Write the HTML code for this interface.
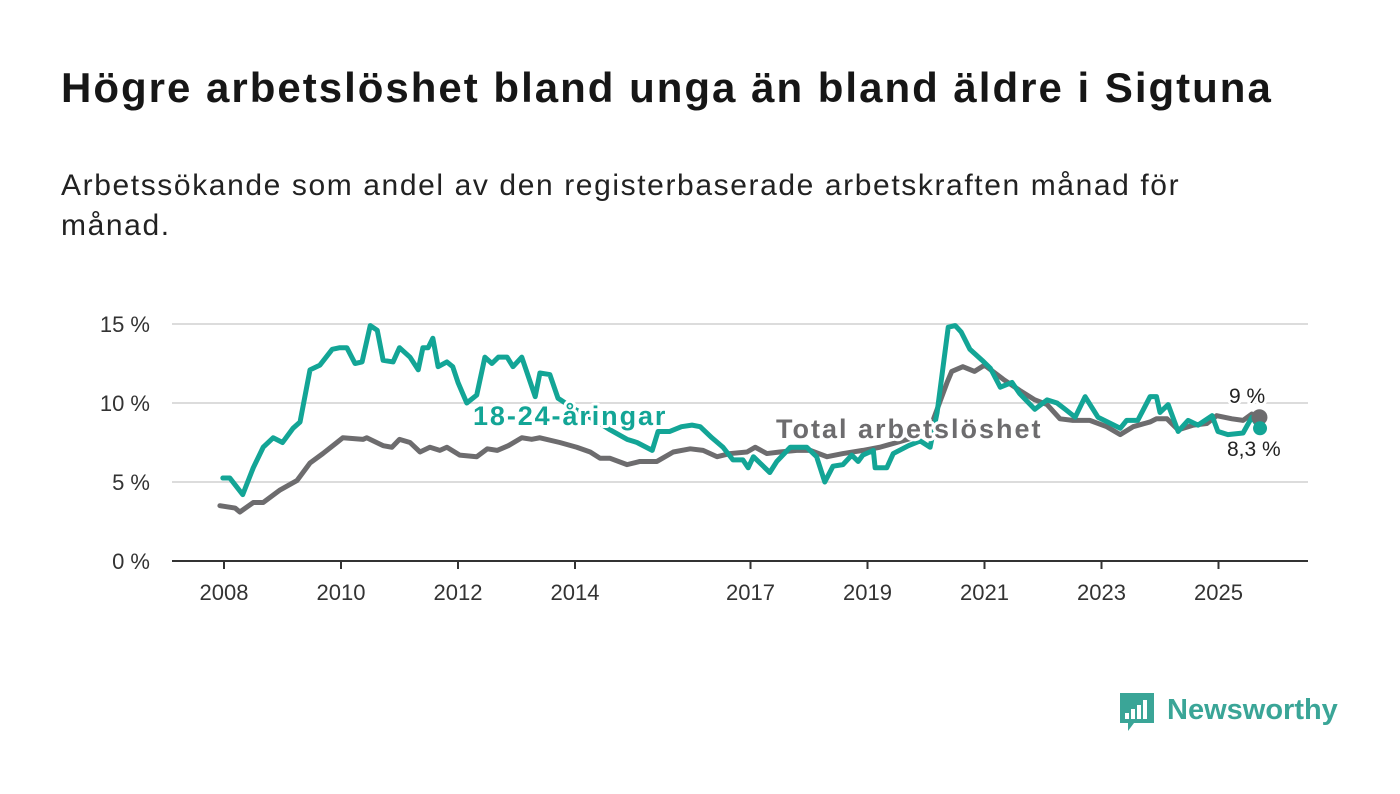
<!DOCTYPE html>
<html><head><meta charset="utf-8"><style>
body{margin:0;background:#fff;font-family:"Liberation Sans","DejaVu Sans",sans-serif;}
#wrap{position:relative;width:1400px;height:794px;overflow:hidden;}
h1{position:absolute;left:61px;top:64px;margin:0;font-size:42px;font-weight:bold;color:#161616;letter-spacing:2px;white-space:nowrap}
p.sub{position:absolute;left:61px;top:166px;margin:0;font-size:30px;line-height:40px;color:#222;width:1200px;letter-spacing:1.6px}
svg{position:absolute;left:0;top:0}
</style></head><body>
<div id="wrap">
<h1>Högre arbetslöshet bland unga än bland äldre i Sigtuna</h1>
<p class="sub">Arbetssökande som andel av den registerbaserade arbetskraften månad för månad.</p>
<svg id="chart" width="1400" height="794"></svg>
</div>
<script>
const yTicks=[0,5,10,15];
const yTickLabels=["0 %","5 %","10 %","15 %"];
const xTicks=[2008,2010,2012,2014,2017,2019,2021,2023,2025];
const totalT=[2007.93,2008.19,2008.27,2008.5,2008.67,2008.96,2009.25,2009.47,2009.69,2009.93,2010.03,2010.38,2010.44,2010.72,2010.87,2011.0,2011.18,2011.35,2011.52,2011.69,2011.81,2012.03,2012.32,2012.5,2012.67,2012.86,2013.09,2013.26,2013.4,2013.74,2014.03,2014.26,2014.43,2014.6,2014.89,2015.11,2015.4,2015.68,2015.97,2016.19,2016.43,2016.65,2016.94,2017.08,2017.28,2017.5,2017.79,2018.02,2018.31,2018.58,2018.92,2019.21,2019.5,2019.78,2020.12,2020.36,2020.44,2020.63,2020.83,2021.0,2021.32,2021.6,2021.86,2022.07,2022.29,2022.51,2022.8,2023.09,2023.32,2023.54,2023.83,2023.94,2024.12,2024.31,2024.57,2024.8,2024.97,2025.23,2025.42,2025.57,2025.7];
const totalV=[3.5,3.35,3.1,3.7,3.7,4.5,5.1,6.2,6.8,7.5,7.8,7.7,7.8,7.3,7.2,7.7,7.5,6.9,7.2,7.0,7.2,6.7,6.6,7.1,7.0,7.3,7.8,7.7,7.8,7.5,7.2,6.9,6.5,6.5,6.1,6.3,6.3,6.9,7.1,7.0,6.6,6.8,6.9,7.2,6.8,6.9,7.0,7.0,6.6,6.8,7.0,7.2,7.5,7.8,8.9,11.3,12.0,12.3,12.0,12.4,11.5,10.8,10.2,9.9,9.0,8.9,8.9,8.5,8.0,8.5,8.8,9.0,9.0,8.3,8.6,8.7,9.2,9.0,8.9,9.3,9.1];
const youthT=[2007.98,2008.1,2008.32,2008.5,2008.67,2008.84,2009.0,2009.18,2009.3,2009.47,2009.64,2009.85,2009.98,2010.1,2010.24,2010.36,2010.5,2010.62,2010.72,2010.89,2011.0,2011.18,2011.32,2011.4,2011.49,2011.57,2011.66,2011.81,2011.91,2012.0,2012.15,2012.32,2012.46,2012.58,2012.69,2012.84,2012.94,2013.09,2013.32,2013.4,2013.57,2013.71,2014.0,2014.3,2014.6,2014.89,2015.06,2015.32,2015.42,2015.62,2015.82,2016.0,2016.14,2016.34,2016.53,2016.7,2016.87,2016.96,2017.05,2017.33,2017.45,2017.68,2017.96,2018.13,2018.27,2018.41,2018.58,2018.73,2018.84,2018.92,2019.1,2019.13,2019.33,2019.44,2019.7,2019.9,2020.07,2020.19,2020.38,2020.5,2020.6,2020.75,2020.96,2021.1,2021.27,2021.47,2021.6,2021.86,2022.07,2022.24,2022.38,2022.55,2022.72,2022.94,2023.32,2023.43,2023.62,2023.83,2023.94,2024.0,2024.14,2024.31,2024.48,2024.65,2024.89,2024.99,2025.16,2025.42,2025.57,2025.71];
const youthV=[5.25,5.25,4.2,5.9,7.2,7.8,7.5,8.4,8.8,12.1,12.4,13.4,13.5,13.5,12.5,12.6,14.9,14.6,12.7,12.6,13.5,12.9,12.1,13.5,13.5,14.1,12.3,12.6,12.3,11.3,10.0,10.5,12.9,12.5,12.9,12.9,12.3,12.9,10.4,11.9,11.8,10.3,9.6,9.0,8.3,7.7,7.5,7.0,8.2,8.2,8.5,8.6,8.5,7.8,7.2,6.4,6.4,5.9,6.6,5.6,6.3,7.2,7.2,6.6,5.0,6.0,6.1,6.7,6.3,6.7,7.0,5.9,5.9,6.8,7.3,7.6,7.2,9.4,14.8,14.9,14.5,13.4,12.7,12.2,11.0,11.3,10.6,9.6,10.2,10.0,9.6,9.1,10.4,9.1,8.4,8.9,8.9,10.4,10.4,9.4,9.9,8.2,8.9,8.6,9.2,8.2,8.0,8.1,9.1,8.4];
const NS="http://www.w3.org/2000/svg";
const svg=document.getElementById('chart');
const X=t=>224+(t-2008)*58.5;
const Y=v=>561-v*15.8;
function mk(tag,attrs,parent){const e=document.createElementNS(NS,tag);for(const k in attrs)e.setAttribute(k,attrs[k]);(parent||svg).appendChild(e);return e;}
yTicks.forEach((v,i)=>{
  if(v>0){const g=mk('line',{x1:172,x2:1308,y1:Y(v),y2:Y(v),stroke:'#dcdcdc','stroke-width':2});
  
  }
  const t=mk('text',{x:150,y:Y(v)+8,'text-anchor':'end','font-size':22,fill:'#333'});
  t.textContent=yTickLabels[i];
  
  
});
const ax=mk('line',{x1:172,x2:1308,y1:561,y2:561,stroke:'#333','stroke-width':2});


xTicks.forEach(yr=>{
  const l=mk('line',{x1:X(yr),x2:X(yr),y1:561,y2:569,stroke:'#333','stroke-width':2});
  
  
  const t=mk('text',{x:X(yr),y:600,'text-anchor':'middle','font-size':22,fill:'#333'});
  t.textContent=yr;
  
  
});
function line(T,V,color,name){
  const p=mk('polyline',{points:T.map((t,i)=>X(t)+','+Y(V[i])).join(' '),fill:'none',stroke:color,'stroke-width':5,'stroke-linejoin':'round','stroke-linecap':'round'});
  
  
}
line(totalT,totalV,'#6d6c6e','series-total');
line(youthT,youthV,'#13a596','series-youth');
const d1=mk('circle',{cx:X(totalT[totalT.length-1]),cy:Y(totalV[totalV.length-1]),r:8,fill:'#6d6c6e'});


const d2=mk('circle',{cx:X(youthT[youthT.length-1]),cy:Y(youthV[youthV.length-1]),r:7,fill:'#13a596'});


function label(txt,x,y,color,size,weight,ls,name){
  const t=mk('text',{x:x,y:y,'font-size':size,'font-weight':weight,fill:color,stroke:'#fff','stroke-width':6,'paint-order':'stroke','stroke-linejoin':'round','letter-spacing':ls});
  t.textContent=txt;
  
  
}
label('18-24-åringar',473,425,'#13a596',27,'bold',1.9,'label-youth');
label('Total arbetslöshet',776,438,'#6d6c6e',27,'bold',2,'label-total');
label('9 %',1229,403,'#222',21,'normal',0,'end-value-total');
label('8,3 %',1227,456,'#222',21,'normal',0,'end-value-youth');
const lg=mk('g',{});


mk('path',{d:'M1120 693 h34 v30 h-20 l-6 8 v-8 h-8 z',fill:'#3aa597'},lg);
[[1125,713,4,6],[1131,709,4,10],[1137,705,4,14],[1143,700,4,19]].forEach(b=>mk('rect',{x:b[0],y:b[1],width:b[2],height:b[3],fill:'#fff'},lg));
const lt=mk('text',{x:1167,y:719,'font-size':29,'font-weight':'bold',fill:'#3aa597'},lg);
lt.textContent='Newsworthy';
</script>
</body></html>
